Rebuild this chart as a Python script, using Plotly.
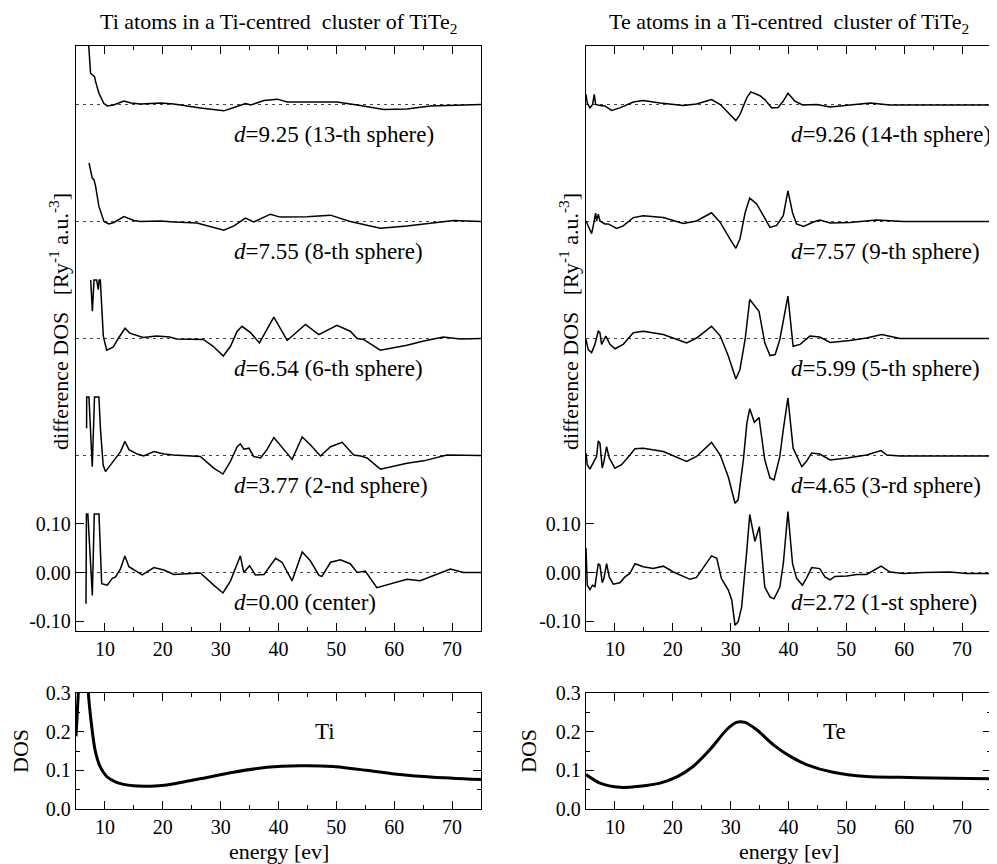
import plotly.graph_objects as go

FONT = "Liberation Serif, Times New Roman, serif"

# ---------------- data ----------------
ti_labels = ["<i>d</i>=0.00 (center)", "<i>d</i>=3.77 (2-nd sphere)", "<i>d</i>=6.54 (6-th sphere)",
             "<i>d</i>=7.55 (8-th sphere)", "<i>d</i>=9.25 (13-th sphere)"]
te_labels = ["<i>d</i>=2.72 (1-st sphere)", "<i>d</i>=4.65 (3-rd sphere)", "<i>d</i>=5.99 (5-th sphere)",
             "<i>d</i>=7.57 (9-th sphere)", "<i>d</i>=9.26 (14-th sphere)"]
offsets = [0.0, 0.24, 0.48, 0.72, 0.96]

ti_000_e = [6.73, 6.8, 7.05, 7.82, 8.16, 8.97, 9.44, 10.4, 11.27, 11.84, 12.7, 13.45, 14.15, 15.3, 16.45,
            18.46, 20.2, 21.9, 24.2, 26.5, 28.8, 30.4, 31.7, 32.6, 33.4, 34.0, 35.0, 36.0, 37.5, 39.5, 40.6,
            42.35, 44.1, 45.5, 47.0, 47.5, 49.0, 50.7, 52.4, 53.6, 55.0, 57.0, 59.3, 62.2, 64.5, 66.8, 69.7,
            72.0, 75.0]
ti_000_v = [-0.064, 0.12, 0.12, -0.047, 0.12, 0.12, -0.023, -0.026, -0.012, -0.009, 0.008, 0.034, 0.012, 0.003,
            -0.005, 0.010, 0.005, -0.004, -0.003, -0.001, -0.026, -0.042, -0.017, 0.012, 0.034, 0.0, 0.014,
            -0.005, -0.004, 0.029, 0.021, -0.017, 0.042, 0.024, -0.006, -0.008, 0.021, 0.026, 0.018, 0.0,
            0.003, -0.031, -0.023, -0.014, -0.017, -0.007, 0.007, 0.0, 0.0]

ti_377_e = [6.83, 6.85, 7.24, 7.81, 8.2, 8.96, 9.25, 9.7, 10.1, 10.98, 11.84, 12.7, 13.45, 14.15, 15.6, 16.7,
            18.46, 20.2, 21.9, 26.5, 28.8, 30.4, 31.7, 32.86, 33.4, 34.0, 34.9, 35.7, 36.9, 38.0, 39.2, 40.05,
            42.35, 44.1, 45.5, 47.25, 49.0, 51.0, 53.0, 54.2, 55.3, 57.6, 62.2, 65.1, 69.1, 75.0]
ti_377_v = [0.056, 0.12, 0.12, -0.023, 0.12, 0.12, 0.05, -0.02, -0.033, -0.019, -0.005, 0.008, 0.029, 0.012,
            0.003, -0.001, 0.008, 0.003, 0.001, -0.002, -0.026, -0.038, -0.012, 0.018, 0.024, 0.013, 0.015,
            -0.002, -0.005, 0.012, 0.037, 0.025, -0.008, 0.038, 0.022, -0.001, 0.018, 0.027, 0.001, -0.001,
            -0.005, -0.028, -0.016, -0.011, 0.001, 0.0]

ti_654_e = [7.54, 7.83, 8.11, 8.57, 8.85, 9.0, 9.2, 9.72, 10.3, 11.4, 12.3, 12.87, 13.47, 14.3, 16.06, 16.6,
            18.9, 21.2, 22.4, 27.0, 28.7, 30.46, 31.7, 32.86, 33.7, 35.16, 36.7, 39.19, 41.5, 44.66, 46.96,
            50.1, 52.4, 53.6, 54.7, 57.6, 62.2, 65.1, 68.5, 71.4, 75.0]
ti_654_v = [0.12, 0.056, 0.12, 0.12, 0.10, 0.12, 0.12, 0.005, -0.024, -0.018, 0.0, 0.009, 0.021, 0.011, 0.005,
            0.002, 0.005, 0.003, -0.001, -0.002, -0.016, -0.036, -0.016, 0.015, 0.025, 0.012, -0.009, 0.044,
            -0.004, 0.029, 0.008, 0.027, 0.015, 0.0, -0.002, -0.024, -0.014, -0.005, 0.003, -0.001, 0.0]

ti_755_e = [7.25, 7.52, 7.81, 8.1, 8.39, 8.96, 9.83, 10.69, 11.55, 13.28, 15.0, 16.16, 19.6, 21.9, 25.9, 30.55,
            32.3, 34.3, 35.7, 38.6, 40.3, 44.9, 48.97, 52.4, 57.6, 62.2, 66.2, 70.3, 75.0]
ti_755_v = [0.12, 0.106, 0.089, 0.086, 0.072, 0.031, 0.0, -0.005, -0.002, 0.010, 0.002, 0.0, 0.001, -0.001,
            -0.003, -0.018, -0.009, 0.007, -0.001, 0.015, 0.009, 0.010, 0.013, 0.0, -0.014, -0.009, -0.003,
            0.002, 0.0]

ti_925_e = [7.2, 7.52, 7.93, 8.2, 8.39, 8.96, 9.83, 10.4, 11.5, 13.28, 14.5, 16.16, 19.6, 21.9, 26.5, 30.55,
            32.3, 34.3, 35.2, 37.5, 39.8, 41.5, 44.9, 50.1, 53.6, 58.2, 62.2, 66.2, 75.0]
ti_925_v = [0.12, 0.064, 0.060, 0.057, 0.047, 0.023, 0.002, -0.003, -0.001, 0.007, 0.003, 0.001, 0.003, 0.001,
            -0.007, -0.013, -0.006, 0.002, -0.001, 0.008, 0.011, 0.005, 0.005, 0.005, -0.001, -0.010, -0.009,
            -0.003, 0.0]

te_272_e = [5.0, 5.22, 5.68, 6.14, 6.54, 7.12, 7.41, 7.81, 8.1, 8.56, 9.02, 9.71, 10.86, 11.73, 12.59, 13.46,
            14.9, 16.6, 18.36, 20.1, 22.97, 24.1, 26.7, 27.6, 28.4, 29.6, 30.2, 30.75, 31.3, 31.9, 32.8, 33.3,
            34.2, 34.96, 35.9, 36.8, 37.5, 38.5, 39.1, 39.9, 40.7, 41.4, 42.4, 43.1, 44.0, 45.4, 46.3, 47.2,
            48.0, 50.1, 51.8, 53.5, 56.0, 57.55, 59.9, 63.3, 67.9, 70.8, 75.0]
te_272_v = [0.05, -0.026, -0.035, -0.026, -0.029, 0.018, 0.015, -0.021, -0.012, 0.018, -0.009, -0.024, -0.021,
            -0.009, -0.002, 0.018, 0.012, 0.008, 0.013, 0.001, -0.014, -0.010, 0.034, 0.029, -0.012, -0.036,
            -0.057, -0.108, -0.101, -0.071, 0.046, 0.119, 0.064, 0.094, -0.030, -0.050, -0.054, -0.030, 0.018,
            0.125, 0.018, -0.012, -0.026, -0.012, 0.010, 0.008, -0.009, -0.015, -0.008, -0.007, -0.004, -0.004,
            0.013, 0.001, -0.002, 0.0, 0.001, -0.002, -0.002]

te_465_e = [5.0, 5.22, 5.68, 6.25, 6.83, 7.12, 7.41, 7.81, 8.1, 8.56, 9.02, 10.0, 11.15, 12.59, 13.46, 14.9,
            18.36, 22.4, 24.1, 26.7, 28.2, 29.6, 30.75, 31.3, 32.2, 32.8, 33.3, 34.1, 34.9, 35.9, 36.8, 37.5,
            38.5, 39.1, 39.9, 40.8, 42.3, 43.1, 44.0, 45.4, 47.2, 50.1, 53.5, 56.0, 57.0, 59.3, 75.0]
te_465_v = [0.005, -0.019, -0.028, -0.016, -0.002, 0.030, 0.025, -0.026, -0.012, 0.018, -0.005, -0.026, -0.019,
            0.001, 0.014, 0.015, 0.008, -0.012, -0.002, 0.027, 0.001, -0.044, -0.098, -0.091, -0.009, 0.066,
            0.096, 0.068, 0.078, -0.009, -0.046, -0.050, -0.002, 0.053, 0.118, 0.015, -0.023, -0.012, 0.005,
            0.003, -0.009, -0.005, 0.001, 0.010, 0.001, -0.001, -0.001]

te_599_e = [5.0, 5.39, 5.97, 6.54, 7.12, 7.41, 7.69, 8.44, 9.14, 10.0, 11.44, 13.17, 14.9, 18.36, 22.4, 24.1,
            26.7, 28.2, 29.6, 30.9, 31.6, 32.5, 33.3, 33.9, 34.9, 35.9, 36.8, 37.7, 38.5, 39.9, 40.8, 42.0,
            43.7, 45.4, 47.2, 50.6, 53.5, 56.1, 59.3, 75.0]
te_599_v = [-0.002, -0.023, -0.029, -0.012, 0.015, 0.012, -0.012, 0.005, -0.012, -0.021, -0.012, 0.012, 0.015,
            0.008, -0.009, 0.001, 0.025, 0.005, -0.036, -0.083, -0.064, -0.002, 0.080, 0.070, 0.056, -0.009,
            -0.035, -0.033, -0.002, 0.087, -0.016, -0.012, 0.005, 0.003, -0.008, -0.004, 0.001, 0.008, 0.0, 0.0]

te_757_e = [5.0, 5.39, 5.97, 6.37, 6.66, 6.83, 7.12, 7.41, 7.87, 8.27, 8.85, 10.29, 11.44, 13.17, 14.9, 18.36,
            21.8, 24.1, 26.7, 28.2, 29.9, 30.9, 31.6, 32.5, 33.3, 34.5, 35.65, 36.8, 37.95, 39.1, 39.9, 40.7,
            41.4, 42.6, 44.3, 45.4, 47.2, 50.6, 55.2, 59.9, 75.0]
te_757_v = [0.001, -0.009, -0.025, -0.002, 0.017, 0.001, 0.015, 0.001, -0.002, -0.005, -0.005, -0.014, -0.009,
            0.008, 0.012, 0.008, -0.004, 0.001, 0.018, -0.002, -0.036, -0.055, -0.036, 0.018, 0.048, 0.036,
            0.012, -0.012, -0.008, 0.012, 0.063, 0.018, -0.005, -0.010, -0.001, 0.003, -0.003, -0.002, 0.003,
            0.0, 0.0]

te_926_e = [5.0, 5.22, 5.68, 6.14, 6.43, 6.66, 7.41, 8.27, 9.42, 10.86, 13.17, 14.9, 17.8, 21.8, 24.1, 26.7,
            28.2, 29.9, 30.9, 31.6, 32.8, 33.5, 35.07, 35.9, 37.1, 38.2, 39.1, 39.9, 41.1, 42.45, 44.9, 47.2,
            50.6, 54.1, 57.55, 75.0]
te_926_v = [0.021, 0.003, -0.007, 0.0, 0.021, 0.0, -0.002, -0.003, -0.012, -0.007, 0.005, 0.008, 0.003, -0.002,
            0.001, 0.010, 0.0, -0.021, -0.033, -0.021, 0.014, 0.026, 0.018, 0.010, -0.007, -0.006, 0.007, 0.023,
            0.007, -0.001, 0.0, -0.005, -0.001, 0.003, -0.001, -0.001]

ti_dos_e = [5.0, 5.4, 5.8, 6.5, 7.13, 7.71, 8.29, 9.15, 10.3, 12.0, 14.9, 17.8, 20.7, 26.4, 32.2, 38.0, 43.7,
            49.5, 55.2, 61.0, 66.8, 75.0]
ti_dos_v = [0.188, 0.30, 0.42, 0.50, 0.30, 0.214, 0.153, 0.110, 0.084, 0.069, 0.060, 0.059, 0.062, 0.078, 0.095,
            0.108, 0.112, 0.110, 0.100, 0.089, 0.082, 0.076]
te_dos_e = [5.0, 7.42, 10.9, 14.3, 17.8, 20.7, 23.5, 26.4, 29.3, 31.0, 32.5, 34.5, 37.4, 40.3, 43.1, 47.7, 53.5,
            59.3, 65.0, 75.0]
te_dos_v = [0.089, 0.067, 0.056, 0.059, 0.067, 0.083, 0.110, 0.153, 0.205, 0.224, 0.224, 0.205, 0.166, 0.136,
            0.115, 0.095, 0.084, 0.082, 0.080, 0.078]

ti_curves = [(ti_000_e, ti_000_v), (ti_377_e, ti_377_v), (ti_654_e, ti_654_v),
             (ti_755_e, ti_755_v), (ti_925_e, ti_925_v)]
te_curves = [(te_272_e, te_272_v), (te_465_e, te_465_v), (te_599_e, te_599_v),
             (te_757_e, te_757_v), (te_926_e, te_926_v)]

titles = ["Ti atoms in a Ti-centred\u00a0 cluster of TiTe<sub>2</sub>",
          "Te atoms in a Ti-centred\u00a0 cluster of TiTe<sub>2</sub>"]
xticks = [10, 20, 30, 40, 50, 60, 70]
diff_ticks = [-0.1, 0.0, 0.1]
diff_ticktext = ["-0.10", "0.00", "0.10"]

# ---------------- figure ----------------
fig = go.Figure()

panels = [("x", "y", ti_curves, ti_labels, 32), ("x2", "y2", te_curves, te_labels, 40)]
for xa, ya, curves, labels, lab_x in panels:
    for (e, v), off, lab in zip(curves, offsets, labels):
        fig.add_trace(go.Scatter(x=[5, 75], y=[off, off], xaxis=xa, yaxis=ya, mode="lines",
                                 line=dict(color="#444", width=1, dash="3px,4px"), hoverinfo="skip"))
        fig.add_trace(go.Scatter(x=e, y=[off + val for val in v], xaxis=xa, yaxis=ya, mode="lines",
                                 line=dict(color="black", width=1.5)))
        fig.add_annotation(x=lab_x, y=off - 0.062, xref=xa, yref=ya, text=lab, showarrow=False,
                           xanchor="left", yanchor="middle", font=dict(family=FONT, size=23, color="black"))

fig.add_trace(go.Scatter(x=ti_dos_e, y=ti_dos_v, xaxis="x3", yaxis="y3", mode="lines",
                         line=dict(color="black", width=3, shape="spline", smoothing=0.6)))
fig.add_trace(go.Scatter(x=te_dos_e, y=te_dos_v, xaxis="x4", yaxis="y4", mode="lines",
                         line=dict(color="black", width=3, shape="spline", smoothing=0.8)))
fig.add_annotation(x=48, y=0.2, xref="x3", yref="y3", text="Ti", showarrow=False,
                   font=dict(family=FONT, size=23, color="black"))
fig.add_annotation(x=48, y=0.2, xref="x4", yref="y4", text="Te", showarrow=False,
                   font=dict(family=FONT, size=23, color="black"))

W, H = 997, 864
OX, OY = 8, 8  # page body margin compensation (pixels)
LW = 1.3
tickfont = dict(family=FONT, size=20, color="black")
base = dict(showline=True, linecolor="black", linewidth=LW, ticks="inside", tickcolor="black",
            tickwidth=LW, ticklen=8, showgrid=False, zeroline=False, tickfont=tickfont, automargin=False)


def px(xp):
    return (xp - OX) / W


def py(yp):
    return 1 - (yp - OY) / H


def xaxis(domain, anchor):
    return dict(base, domain=domain, anchor=anchor, range=[5, 75], tickvals=xticks, mirror="ticks",
                minor=dict(dtick=5, tick0=0, ticks="inside", ticklen=4, tickcolor="black", tickwidth=LW))


xl = [px(76), px(481)]
xr = [px(586), px(991)]
ytop = [py(631), py(46)]
ybot = [py(809), py(693)]

ydiff = dict(base, range=[-0.12, 1.08], tickvals=diff_ticks, ticktext=diff_ticktext, mirror=True)
ydos = dict(base, range=[0, 0.3], tickvals=[0, 0.1, 0.2, 0.3], ticktext=["0.0", "0.1", "0.2", "0.3"],
            mirror="ticks",
            minor=dict(dtick=0.05, tick0=0, ticks="inside", ticklen=4, tickcolor="black", tickwidth=LW))

fig.update_layout(
    width=W, height=H, autosize=False, showlegend=False,
    margin=dict(l=0, r=0, t=0, b=0, pad=0, autoexpand=False),
    paper_bgcolor="white", plot_bgcolor="white",
    xaxis=xaxis(xl, "y"), yaxis=dict(ydiff, domain=ytop, anchor="x"),
    xaxis2=xaxis(xr, "y2"), yaxis2=dict(ydiff, domain=ytop, anchor="x2"),
    xaxis3=xaxis(xl, "y3"), yaxis3=dict(ydos, domain=ybot, anchor="x3"),
    xaxis4=xaxis(xr, "y4"), yaxis4=dict(ydos, domain=ybot, anchor="x4"),
)

txt = dict(family=FONT, size=23, color="black")
for t, xc in zip(titles, [(xl[0] + xl[1]) / 2, (xr[0] + xr[1]) / 2]):
    fig.add_annotation(x=xc, y=1.0, xref="paper", yref="paper", text=t, showarrow=False,
                       xanchor="center", yanchor="top", borderpad=0, font=dict(txt, size=22))
ylab = "difference DOS \u00a0 [Ry<sup>-1</sup> a.u.<sup>-3</sup>]"
for xc in [px(59), px(569)]:
    fig.add_annotation(x=xc, y=py(322), xref="paper", yref="paper", text=ylab, showarrow=False,
                       textangle=-90, xanchor="center", yanchor="middle", font=dict(txt, size=22))
for xc in [px(20), px(528)]:
    fig.add_annotation(x=xc, y=py(751), xref="paper", yref="paper", text="DOS", showarrow=False,
                       textangle=-90, xanchor="center", yanchor="middle", font=dict(txt, size=22))
for xc in [(xl[0] + xl[1]) / 2, (xr[0] + xr[1]) / 2]:
    fig.add_annotation(x=xc, y=py(851), xref="paper", yref="paper", text="energy [ev]", showarrow=False,
                       xanchor="center", yanchor="middle", font=dict(txt, size=22))

fig.write_html("out.html")
